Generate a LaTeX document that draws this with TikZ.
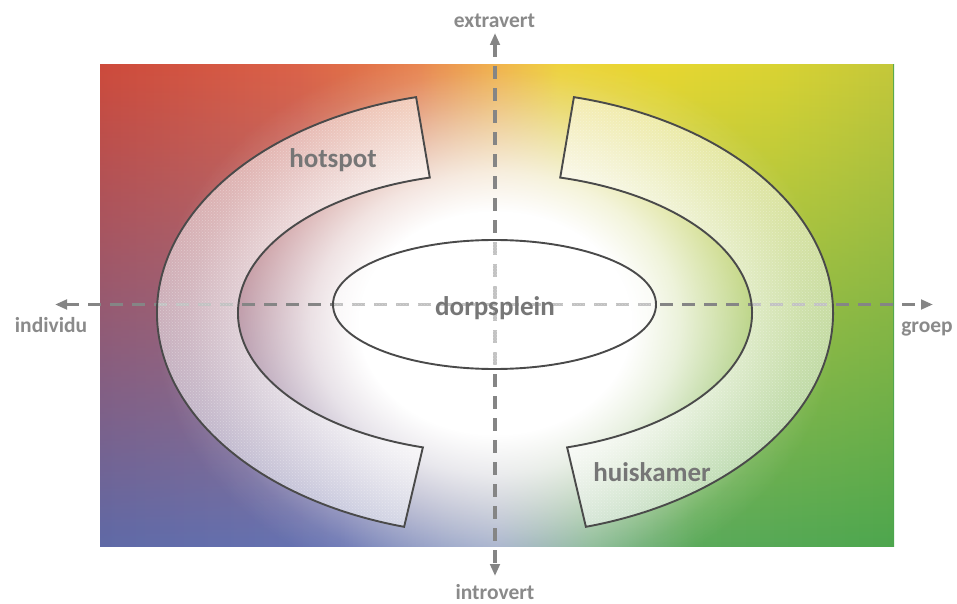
\documentclass[tikz,border=0pt]{standalone}
\usepackage{fontspec}
\setmainfont{Carlito}
\usetikzlibrary{arrows.meta,fadings,patterns,calc}

\definecolor{axisgray}{HTML}{858585}
\definecolor{outline}{HTML}{4A4A4A}
\definecolor{labelgray}{HTML}{767676}
\definecolor{axislabel}{HTML}{8A8A8A}

% colour ramps along the top and the bottom edge of the field
% (a shaded path spans the stops from 25bp to 75bp)
\pgfdeclarehorizontalshading{toprow}{100bp}{%
  color(0bp)=(rgb,255:red,207;green,74;blue,58);
  color(25bp)=(rgb,255:red,207;green,74;blue,58);
  color(37.5bp)=(rgb,255:red,221;green,98;blue,71);
  color(45bp)=(rgb,255:red,234;green,128;blue,72);
  color(50bp)=(rgb,255:red,242;green,174;blue,62);
  color(54bp)=(rgb,255:red,240;green,210;blue,50);
  color(60bp)=(rgb,255:red,234;green,216;blue,48);
  color(67.5bp)=(rgb,255:red,220;green,212;blue,50);
  color(75bp)=(rgb,255:red,198;green,200;blue,58);
  color(100bp)=(rgb,255:red,198;green,200;blue,58)}
\pgfdeclarehorizontalshading{bottomrow}{100bp}{%
  color(0bp)=(rgb,255:red,94;green,106;blue,168);
  color(25bp)=(rgb,255:red,94;green,106;blue,168);
  color(40bp)=(rgb,255:red,102;green,116;blue,180);
  color(50bp)=(rgb,255:red,140;green,156;blue,192);
  color(56bp)=(rgb,255:red,120;green,176;blue,136);
  color(62.5bp)=(rgb,255:red,90;green,170;blue,92);
  color(75bp)=(rgb,255:red,76;green,166;blue,78);
  color(100bp)=(rgb,255:red,76;green,166;blue,78)}
\tikzfading[name=topdown, top color=transparent!0,
  middle color=transparent!42, bottom color=transparent!100]

% soft white glow in the middle of the field
\pgfdeclareradialshading{glowshade}{\pgfpoint{0bp}{0bp}}{%
  color(0bp)=(white); color(10bp)=(white); color(13.5bp)=(white!80!black);
  color(17bp)=(white!52!black); color(20bp)=(white!28!black);
  color(22.5bp)=(white!10!black); color(25bp)=(black); color(50bp)=(black)}
\pgfdeclarefading{glow}{\pgfuseshading{glowshade}}

\tikzset{
  axis/.style={draw=axisgray, line width=3.4pt, dash pattern=on 13pt off 9pt,
    {Triangle[length=12pt,width=9.5pt]}-{Triangle[length=12pt,width=9.5pt]}},
  zone/.style={preaction={fill=white, fill opacity=.5},
    pattern=crosshatch dots, pattern color=white, fill opacity=.3,
    draw=outline, draw opacity=1, line width=1.9pt},
  biglabel/.style={font=\fontsize{27}{30}\selectfont\bfseries, text=labelgray,
    inner sep=0pt, anchor=base},
  axislabel/.style={font=\fontsize{21.5}{24}\selectfont\bfseries, text=axislabel,
    inner sep=0pt, anchor=base}
}

\begin{document}
\begin{tikzpicture}[x=1pt, y=1pt]
  \useasboundingbox (0,0) rectangle (957,603);

  % colour field
  \begin{scope}
    \clip (100,57) rectangle (894,538);
    \shade[shading=bottomrow] (100,50) rectangle (894,545);
    \shade[shading=toprow, path fading=topdown, fit fading=true]
      (100,52) rectangle (894,545);
    \fill[white, path fading=glow, fit fading=true]
      (495,280) ellipse[x radius=340, y radius=278];
  \end{scope}

  % axes
  \coordinate (W) at (55,298.5);
  \coordinate (E) at (933,298.5);
  \coordinate (N) at (495,570);
  \coordinate (S) at (495,27);
  \draw[axis] (W) -- (E);
  \draw[axis] (N) -- (S);

  % rings
  \coordinate (O) at (495,290);
  \path[zone] ($(O)+(103.5:338 and 222)$)
      arc[start angle=103.5, end angle=254.4, x radius=338, y radius=222]
      -- ($(O)+(253.7:257 and 140)$)
      arc[start angle=253.7, end angle=104.7, x radius=257, y radius=140]
      -- cycle;
  \path[zone] ($(O)+(76.5:338 and 222)$)
      arc[start angle=76.5, end angle=-74.4, x radius=338, y radius=222]
      -- ($(O)+(-73.7:257 and 140)$)
      arc[start angle=-73.7, end angle=75.3, x radius=257, y radius=140]
      -- cycle;
  \path[zone] (494.5,298.5) ellipse[x radius=161.5, y radius=64.5];

  % labels
  \node[biglabel] (hotspot) at (333,435) {hotspot};
  \node[biglabel] (huiskamer) at (652,122) {huiskamer};
  \node[biglabel] (dorpsplein) at (495,288) {dorpsplein};
  \node[axislabel] (extravert) at (494.5,575) {extravert};
  \node[axislabel] (introvert) at (495,3.5) {introvert};
  \node[axislabel] (individu) at (51,271) {individu};
  \node[axislabel] (groep) at (927,271) {groep};
\end{tikzpicture}
\end{document}
